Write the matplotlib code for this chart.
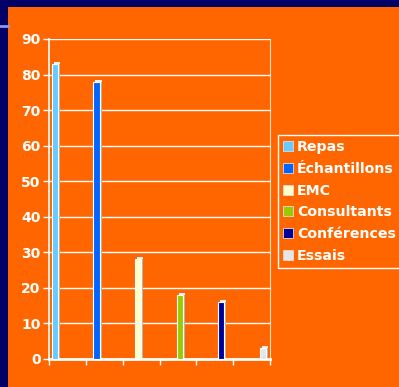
import numpy as np
import matplotlib
matplotlib.use('Agg')
import matplotlib.pyplot as plt
from matplotlib.patches import Rectangle
from matplotlib.lines import Line2D

# data
categories = ['Repas', 'Échantillons', 'EMC', 'Consultants', 'Conférences', 'Essais']
values = [83, 78, 28, 18, 16, 3]
colors = ['#66CCFF', '#0066FF', '#FFFFCC', '#99CC00', '#000099', '#E6E6E6']
yticks = [0, 10, 20, 30, 40, 50, 60, 70, 80, 90]

navy = '#000066'
orange = '#FF6600'
W, H = 399, 387

fig = plt.figure(figsize=(3.99, 3.87), dpi=100, facecolor=orange)

# navy strips on top and left, small light bar at the left edge
fig.patches.append(Rectangle((0, 1 - 7 / H), 1, 7 / H, transform=fig.transFigure,
                             facecolor=navy, edgecolor='none'))
fig.patches.append(Rectangle((0, 0), 8 / W, 1, transform=fig.transFigure,
                             facecolor=navy, edgecolor='none'))
fig.lines.append(Line2D([0, 8 / W], [1 - 26 / H, 1 - 26 / H], transform=fig.transFigure,
                        color='#8899EE', lw=2))

ax = fig.add_axes([49 / W, 1 - 359 / H, 221 / W, 320 / H])
ax.set_facecolor(orange)

x = np.arange(len(categories))
bw = 0.15
# gray side / top, a bit offset, gives the 3d look
ax.bar(x + 0.045, values, width=bw, color='#B0B0B0', edgecolor='none', zorder=2)
ax.bar(x + 0.045, [0.6] * len(values), width=bw, bottom=values, color='#F0F0F0',
       edgecolor='none', zorder=2)
ax.bar(x, values, width=bw, color=colors, edgecolor='white', linewidth=0.8, zorder=3)

xmin, xmax = -0.145, 5.17
ax.set_xlim(xmin, xmax)
ax.set_ylim(0, 90)
ax.set_yticks(yticks)
ax.set_xticks(np.linspace(xmin, xmax, 7))
ax.set_xticklabels([])
ax.yaxis.grid(True, color='white', lw=1)
ax.set_axisbelow(True)

for s in ['left', 'bottom']:
    ax.spines[s].set_color('white')
ax.spines['left'].set_linewidth(1.2)
ax.spines['bottom'].set_linewidth(2)
ax.spines['right'].set_color('#FFE0C0')
ax.spines['right'].set_linewidth(0.8)
ax.spines['top'].set_visible(False)

ax.tick_params(axis='y', colors='white', length=4, width=1, labelsize=10, pad=2)
ax.tick_params(axis='x', colors='white', length=4, width=1)
for t in ax.get_yticklabels():
    t.set_fontweight('bold')

handles = [Rectangle((0, 0), 1, 1, facecolor=c, edgecolor='#DDDDDD', lw=0.6) for c in colors]
leg = fig.legend(handles, categories, loc='upper left', bbox_to_anchor=(278 / W, 1 - 135 / H),
                 frameon=True, fancybox=False, facecolor=orange, edgecolor='white',
                 framealpha=1, handlelength=0.7, handleheight=0.7, handletextpad=0.3,
                 labelspacing=0.55, borderpad=0.35, borderaxespad=0,
                 prop={'size': 10.2, 'weight': 'bold'})
leg.get_frame().set_linewidth(1)
for t in leg.get_texts():
    t.set_color('white')

fig.savefig('out.png', dpi=100, facecolor=orange)
